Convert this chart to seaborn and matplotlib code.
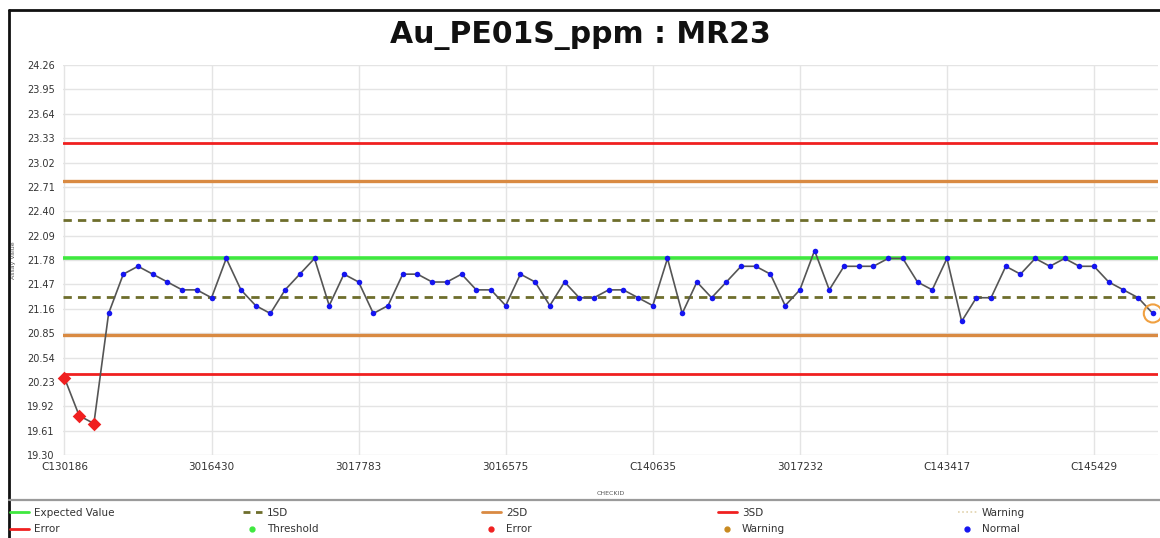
import numpy as np
import pandas as pd
import matplotlib
matplotlib.use("Agg")
import matplotlib.pyplot as plt
from matplotlib.lines import Line2D
import seaborn as sns

# ---------------- data ----------------
title = "Au_PE01S_ppm : MR23"
assay_values = [
    20.28, 19.80, 19.70, 21.10, 21.60, 21.70, 21.60, 21.50, 21.40, 21.40,
    21.30, 21.80, 21.40, 21.20, 21.10, 21.40, 21.60, 21.80, 21.20, 21.60,
    21.50, 21.10, 21.20, 21.60, 21.60, 21.50, 21.50, 21.60, 21.40, 21.40,
    21.20, 21.60, 21.50, 21.20, 21.50, 21.30, 21.30, 21.40, 21.40, 21.30,
    21.20, 21.80, 21.10, 21.50, 21.30, 21.50, 21.70, 21.70, 21.60, 21.20,
    21.40, 21.90, 21.40, 21.70, 21.70, 21.70, 21.80, 21.80, 21.50, 21.40,
    21.80, 21.00, 21.30, 21.30, 21.70, 21.60, 21.80, 21.70, 21.80, 21.70,
    21.70, 21.50, 21.40, 21.30, 21.10,
]
tick_labels = ["C130186", "3016430", "3017783", "3016575",
               "C140635", "3017232", "C143417", "C145429"]
y_ticks = [19.30, 19.61, 19.92, 20.23, 20.54, 20.85, 21.16, 21.47, 21.78,
           22.09, 22.40, 22.71, 23.02, 23.33, 23.64, 23.95, 24.26]
expected_value = 21.80
std_dev = 0.49

# ---------------- styles ----------------
C_GREEN = "#3fe83f"
C_OLIVE = "#6e6e2c"
C_ORANGE = "#d98a42"
C_RED = "#f02020"
C_BLUE = "#1515f0"
C_TAN = "#e2d3ad"

sns.set_theme(style="white")
plt.rcParams["font.family"] = ["DejaVu Sans"]

n = len(assay_values)
df = pd.DataFrame({"idx": np.arange(n), "value": assay_values})
lo3, hi3 = expected_value - 3 * std_dev, expected_value + 3 * std_dev
df["status"] = np.where((df["value"] < lo3) | (df["value"] > hi3), "Error", "Normal")

fig = plt.figure(figsize=(11.6, 5.38), dpi=100)
ax = fig.add_axes([63 / 1160, 1 - 455 / 538, (1158 - 63) / 1160, 390 / 538])

# grid
ax.set_yticks(y_ticks)
ax.set_yticklabels([f"{v:.2f}" for v in y_ticks], fontsize=7, color="#333333")
ax.set_xticks(list(range(0, n, 10)))
ax.set_xticklabels(tick_labels, fontsize=7.5, color="#333333")
ax.grid(True, color="#e4e4e4", lw=1)
ax.tick_params(axis="both", length=0)
ax.tick_params(axis="y", pad=6)
ax.tick_params(axis="x", pad=5)
for s in ax.spines.values():
    s.set_visible(False)
ax.set_xlim(-0.1, 74.35)
ax.set_ylim(19.30, 24.26)

# control lines
ax.axhline(hi3, color=C_RED, lw=2, zorder=2)
ax.axhline(lo3, color=C_RED, lw=2, zorder=2)
ax.axhline(expected_value + 2 * std_dev, color=C_ORANGE, lw=2.4, zorder=2)
ax.axhline(expected_value - 2 * std_dev, color=C_ORANGE, lw=2.4, zorder=2)
ax.axhline(expected_value + std_dev, color=C_OLIVE, lw=2, ls=(0, (3, 2.2)), zorder=2)
ax.axhline(expected_value - std_dev, color=C_OLIVE, lw=2, ls=(0, (3, 2.2)), zorder=2)
ax.axhline(expected_value, color=C_GREEN, lw=2.6, zorder=2)

# data
sns.lineplot(data=df, x="idx", y="value", color="#555555", lw=1.2, ax=ax,
             zorder=3, legend=False)
norm = df[df.status == "Normal"]
err = df[df.status == "Error"]
sns.scatterplot(data=norm, x="idx", y="value", color=C_BLUE, s=16, marker="o",
                linewidth=0, ax=ax, zorder=4, legend=False)
sns.scatterplot(data=err, x="idx", y="value", color=C_RED, s=48, marker="D",
                linewidth=0, ax=ax, zorder=4, legend=False, clip_on=False)
last = df.iloc[[-1]]
ax.scatter(last["idx"], last["value"], s=170, facecolors="none",
           edgecolors="#f0a040", linewidths=1.5, zorder=5, clip_on=False)

ax.set_xlabel("CHECKID", fontsize=4.5, color="#555555", labelpad=14)
ax.set_ylabel("Assay Value", fontsize=4.5, color="#555555", labelpad=8)

fig.text(0.5, 1 - 35 / 538, title, ha="center", va="center",
         fontsize=21.5, fontweight="bold", color="#111111")

# frame / separators
fig.add_artist(Line2D([9 / 1160, 1], [1 - 10 / 538] * 2, color="#111111", lw=2,
                      transform=fig.transFigure))
fig.add_artist(Line2D([9 / 1160] * 2, [0, 1 - 10 / 538], color="#111111", lw=2,
                      transform=fig.transFigure))
fig.add_artist(Line2D([9 / 1160, 1], [1 - 500 / 538] * 2, color="#9a9a9a", lw=1.6,
                      transform=fig.transFigure))

# legend (5 columns x 2 rows)
def lh(**kw):
    return Line2D([], [], **kw)

cols = [
    (10, [(lh(color=C_GREEN, lw=2), "Expected Value"), (lh(color=C_RED, lw=2), "Error")]),
    (243, [(lh(color=C_OLIVE, lw=2, ls=(0, (2.5, 2))), "1SD"),
           (lh(color=C_GREEN, marker="o", ls="none", ms=3.5), "Threshold")]),
    (482, [(lh(color=C_ORANGE, lw=2), "2SD"),
           (lh(color=C_RED, marker="o", ls="none", ms=3.5), "Error")]),
    (718, [(lh(color=C_RED, lw=2), "3SD"),
           (lh(color="#c88a20", marker="o", ls="none", ms=3.5), "Warning")]),
    (958, [(lh(color=C_TAN, lw=1.2, ls=(0, (1, 1.5))), "Warning"),
           (lh(color=C_BLUE, marker="o", ls="none", ms=3.5), "Normal")]),
]
for x0, items in cols:
    fig.legend([h for h, _ in items], [t for _, t in items], loc="upper left",
               bbox_to_anchor=(x0 / 1160, 1 - 508 / 538), frameon=False,
               fontsize=7.5, borderpad=0, borderaxespad=0, handlelength=1.8,
               handletextpad=0.5, labelspacing=0.62, labelcolor="#333333")

fig.savefig("out.png", dpi=100, facecolor="white")
